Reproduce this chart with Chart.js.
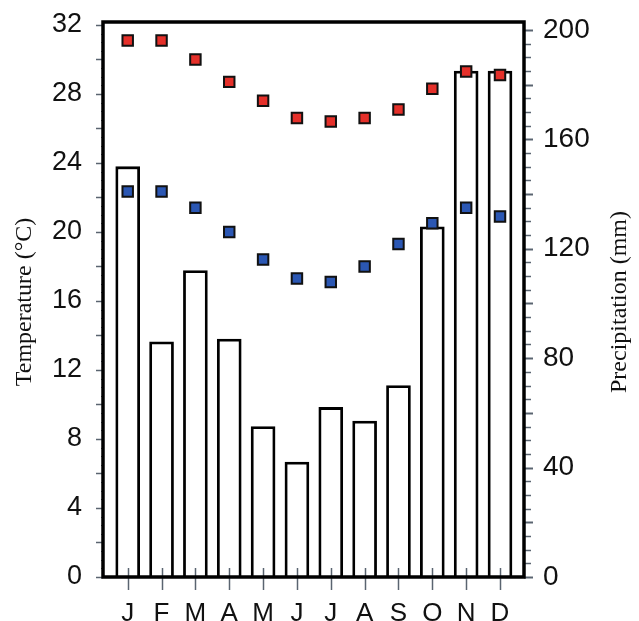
<!DOCTYPE html>
<html>
<head>
<meta charset="utf-8">
<title>Climate chart</title>
<script src="https://cdn.jsdelivr.net/npm/chart.js@4/dist/chart.umd.min.js"></script>
<style>
  html, body { margin: 0; padding: 0; background: #fff; }
  #climate { display: block; }
</style>
</head>
<body>
<canvas id="climate" width="639" height="621"></canvas>
<script>
// ----------------------------- Data -----------------------------------------
const months = ["J", "F", "M", "A", "M", "J", "J", "A", "S", "O", "N", "D"];
const precipitation = [150, 86, 112, 87, 55, 42, 62, 57, 70, 128, 185, 185];
const tempMax = [31.1, 31.1, 30.0, 28.7, 27.6, 26.6, 26.4, 26.6, 27.1, 28.3, 29.3, 29.1];
const tempMin = [22.35, 22.35, 21.4, 20.0, 18.4, 17.3, 17.1, 18.0, 19.3, 20.5, 21.4, 20.9];
const tempTicks = [0, 4, 8, 12, 16, 20, 24, 28, 32];
const precipTicks = [0, 40, 80, 120, 160, 200];

// ----------------------------- Helpers --------------------------------------
const toPoints = (arr) => arr.map((v, i) => ({ x: i + 1, y: v }));

const AXIS_COLOR = "#000";
const TICK_COLOR = "#5a6470";
const SANS = "'Liberation Sans', Arial, sans-serif";

// kill the automatic label-overflow padding so the plot area lands where we want
const noOverflow = (width, height) => (s) => {
    if (width) s.width = width;
    if (height) s.height = height;
    s.paddingTop = 0; s.paddingBottom = 0;
    s.paddingLeft = 0; s.paddingRight = 0;
};

// ----------------------------- Decorations plugin ---------------------------
const Decorations = {
    id: "decorations",
    afterDraw(chart) {
        const { ctx, chartArea: a, scales } = chart;
        const yL = scales.yTemp, yR = scales.yPrec, x = scales.x;
        ctx.save();

        // left minor ticks
        ctx.strokeStyle = TICK_COLOR;
        for (let v = 0; v <= 32; v += 0.5) {
            const py = Math.round(yL.getPixelForValue(v)) + 0.5;
            const len = v % 2 === 0 ? 7 : 2;
            ctx.lineWidth = v % 2 === 0 ? 1.5 : 1;
            ctx.beginPath();
            ctx.moveTo(a.left - len, py);
            ctx.lineTo(a.left, py);
            ctx.stroke();
        }

        // right ticks
        for (let v = 0; v <= 200; v += 5) {
            const py = Math.round(yR.getPixelForValue(v)) + 0.5;
            const len = v % 20 === 0 ? 9 : 7;
            ctx.lineWidth = v % 20 === 0 ? 2 : 1.5;
            ctx.beginPath();
            ctx.moveTo(a.right, py);
            ctx.lineTo(a.right + len, py);
            ctx.stroke();
        }

        // month ticks crossing the bottom axis
        ctx.lineWidth = 1.5;
        for (let i = 1; i <= 12; i++) {
            const px = Math.round(x.getPixelForValue(i)) + 0.5;
            ctx.beginPath();
            ctx.moveTo(px, a.bottom - 9);
            ctx.lineTo(px, a.bottom + 13);
            ctx.stroke();
        }

        // frame
        ctx.strokeStyle = AXIS_COLOR;
        ctx.lineWidth = 3.5;
        ctx.strokeRect(a.left, a.top, a.right - a.left, a.bottom - a.top);

        // axis titles, both reading bottom to top
        ctx.fillStyle = "#111";
        ctx.font = "24px 'Liberation Serif', serif";
        ctx.textAlign = "center";
        ctx.textBaseline = "middle";
        const midY = 302;
        [[25, "Temperature (°C)"], [620, "Precipitation (mm)"]].forEach(([tx, label]) => {
            ctx.save();
            ctx.translate(tx, midY);
            ctx.rotate(-Math.PI / 2);
            ctx.fillText(label, 0, 0);
            ctx.restore();
        });

        ctx.restore();
    },
};

// ----------------------------- Chart ----------------------------------------
const ClimateChart = (() => {
    function init() {
        const canvas = document.getElementById("climate");
        return new Chart(canvas, {
            type: "bar",
            data: {
                datasets: [
                    {
                        type: "scatter",
                        label: "Max temperature",
                        data: toPoints(tempMax),
                        yAxisID: "yTemp",
                        pointStyle: "rect",
                        pointRadius: 7.4,
                        backgroundColor: "#e5302a",
                        borderColor: "#111",
                        borderWidth: 2,
                        order: 0,
                    },
                    {
                        type: "scatter",
                        label: "Min temperature",
                        data: toPoints(tempMin),
                        yAxisID: "yTemp",
                        pointStyle: "rect",
                        pointRadius: 7.4,
                        backgroundColor: "#2b57b3",
                        borderColor: "#111",
                        borderWidth: 2,
                        order: 0,
                    },
                    {
                        label: "Precipitation",
                        data: toPoints(precipitation),
                        yAxisID: "yPrec",
                        backgroundColor: "#fff",
                        borderColor: "#000",
                        borderWidth: 2.8,
                        barThickness: 24,
                        order: 1,
                    },
                ],
            },
            options: {
                responsive: false,
                animation: false,
                layout: { padding: { top: 22, left: 0, right: 0, bottom: 0 } },
                plugins: {
                    legend: { display: false },
                    tooltip: { enabled: false },
                },
                scales: {
                    x: {
                        type: "linear",
                        offset: false,
                        min: 0.27,
                        max: 12.709,
                        grid: { display: false, drawTicks: false },
                        border: { display: false },
                        afterBuildTicks: (s) => { s.ticks = months.map((m, i) => ({ value: i + 1 })); },
                        afterFit: noOverflow(0, 44),
                        ticks: {
                            autoSkip: false,
                            maxRotation: 0,
                            padding: 21,
                            color: "#111",
                            font: { family: SANS, size: 26 },
                            callback: (v) => months[Math.round(v) - 1] || "",
                        },
                    },
                    yTemp: {
                        position: "left",
                        min: 0,
                        max: 32.17,
                        grid: { display: false, drawTicks: false },
                        border: { display: false },
                        afterBuildTicks: (s) => { s.ticks = tempTicks.map((v) => ({ value: v })); },
                        afterFit: noOverflow(103, 0),
                        ticks: {
                            padding: 21,
                            color: "#111",
                            font: { family: SANS, size: 27 },
                        },
                    },
                    yPrec: {
                        position: "right",
                        min: 0,
                        max: 202.9,
                        grid: { display: false, drawTicks: false },
                        border: { display: false },
                        afterBuildTicks: (s) => { s.ticks = precipTicks.map((v) => ({ value: v })); },
                        afterFit: noOverflow(115, 0),
                        ticks: {
                            padding: 19,
                            color: "#111",
                            font: { family: SANS, size: 28 },
                        },
                    },
                },
            },
            plugins: [Decorations],
        });
    }
    return { init };
})();

// ----------------------------- Bootstrap ------------------------------------
ClimateChart.init();
</script>
</body>
</html>
